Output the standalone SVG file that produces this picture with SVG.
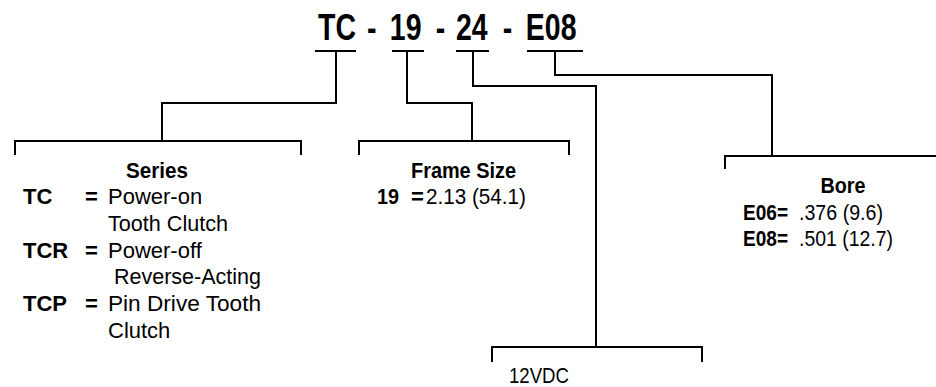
<svg xmlns="http://www.w3.org/2000/svg" width="936" height="387" viewBox="0 0 936 387">
<style>
.ln{fill:none;stroke:#000;stroke-width:2;stroke-linejoin:miter;stroke-linecap:butt}
.t{font-family:"Liberation Sans",Arial,sans-serif;font-size:22px;fill:#000}
.b{font-weight:bold}
.title{font-family:"Liberation Sans",Arial,sans-serif;font-size:37.5px;font-weight:bold;fill:#000}
</style>
<rect width="936" height="387" fill="#fff"/>
<g id="title">
<text class="title" transform="translate(318,40) scale(0.76,1)"><tspan x="0">TC </tspan><tspan x="64.5">- </tspan><tspan x="94.5">19 </tspan><tspan x="155">- </tspan><tspan x="181.5">24 </tspan><tspan x="243">- </tspan><tspan x="273.5">E08</tspan></text>
<path class="ln" d="M315,51H356M392,51H424M456,51H489M527,51H583"/>
</g>
<g id="connectors">
<path class="ln" d="M336,51V103H162V141"/>
<path class="ln" d="M407,51V103H472V141"/>
<path class="ln" d="M473,51V86H596V347"/>
<path class="ln" d="M555,51V75H772V156"/>
</g>
<g id="series">
<path class="ln" d="M15,155V141H301V155"/>
<text class="t b" x="157" y="177.5" text-anchor="middle" textLength="62" lengthAdjust="spacingAndGlyphs">Series</text>
<text class="t b" x="23" y="204">TC</text>
<text class="t b" x="85" y="204">=</text>
<text class="t" x="108" y="204">Power-on</text>
<text class="t" x="108" y="230.5" textLength="120" lengthAdjust="spacingAndGlyphs">Tooth Clutch</text>
<text class="t b" x="23" y="257.5">TCR</text>
<text class="t b" x="85" y="257.5">=</text>
<text class="t" x="108" y="257.5">Power-off</text>
<text class="t" x="114" y="284" textLength="147" lengthAdjust="spacingAndGlyphs">Reverse-Acting</text>
<text class="t b" x="23" y="311">TCP</text>
<text class="t b" x="85" y="311">=</text>
<text class="t" x="108" y="311" textLength="153" lengthAdjust="spacingAndGlyphs">Pin Drive Tooth</text>
<text class="t" x="108" y="337.5">Clutch</text>
</g>
<g id="frame">
<path class="ln" d="M359,155V141H569V155"/>
<text class="t b" x="463.5" y="177.5" text-anchor="middle" textLength="105" lengthAdjust="spacingAndGlyphs">Frame Size</text>
<text class="t b" x="377" y="204" textLength="22" lengthAdjust="spacingAndGlyphs">19</text>
<text class="t b" x="411" y="204">=</text>
<text class="t" x="426" y="204" textLength="100" lengthAdjust="spacingAndGlyphs">2.13 (54.1)</text>
</g>
<g id="voltage">
<path class="ln" d="M492,362V347H702V362"/>
<text class="t" x="509" y="383" textLength="60" lengthAdjust="spacingAndGlyphs">12VDC</text>
</g>
<g id="bore">
<path class="ln" d="M725,169V156H936"/>
<text class="t b" x="843" y="192.5" text-anchor="middle" textLength="45" lengthAdjust="spacingAndGlyphs">Bore</text>
<text class="t b" x="743" y="220" textLength="45" lengthAdjust="spacingAndGlyphs">E06=</text>
<text class="t" x="799" y="220" textLength="84" lengthAdjust="spacingAndGlyphs">.376 (9.6)</text>
<text class="t b" x="743" y="246" textLength="45" lengthAdjust="spacingAndGlyphs">E08=</text>
<text class="t" x="799" y="246" textLength="94" lengthAdjust="spacingAndGlyphs">.501 (12.7)</text>
</g>
</svg>
